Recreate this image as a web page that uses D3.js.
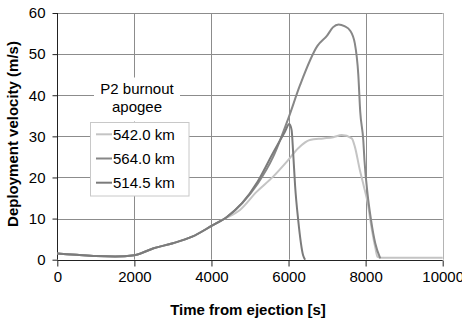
<!DOCTYPE html>
<html><head><meta charset="utf-8">
<script src="https://cdn.jsdelivr.net/npm/d3@7"></script>
<style>
html,body{margin:0;padding:0;background:#fff;}
text{font-family:Arial,"Liberation Sans",sans-serif;fill:#000;}
</style></head>
<body><svg id="c" width="462" height="323"></svg>
<script>
const xTicks = [0, 2000, 4000, 6000, 8000, 10000];
const yTicks = [0, 10, 20, 30, 40, 50, 60];
const seriesNames = ["542.0 km", "564.0 km", "514.5 km"];
const seriesColors = ["#c4c4c4", "#878787", "#7b7b7b"];

const t542 = [0, 500, 1000, 1500, 2000, 2500, 3000, 3500, 4000, 4300, 4740, 5170, 5600, 5950, 6250, 6550, 6900, 7160, 7380, 7640, 7720, 7850, 7950, 8050, 8150, 8250, 8310, 8400, 10000];
const v542 = [1.5, 1.2, 0.9, 0.8, 1.1, 2.8, 4.0, 5.6, 8.2, 9.8, 12.1, 16.5, 20.2, 23.8, 27.1, 29.1, 29.5, 29.8, 30.3, 29.5, 27.5, 21.8, 18, 14, 8, 3, 0.7, 0.5, 0.5];

const t564 = [0, 500, 1000, 1500, 2000, 2500, 3000, 3500, 4000, 4400, 4800, 5200, 5600, 6000, 6300, 6750, 7000, 7150, 7300, 7450, 7600, 7720, 7810, 7860, 7940, 7970, 8050, 8140, 8250, 8380];
const v564 = [1.5, 1.2, 0.9, 0.8, 1.1, 2.8, 4.0, 5.6, 8.2, 10.4, 13.8, 18.5, 25, 34.5, 42.5, 52, 54.5, 56.5, 57.2, 56.8, 55.7, 52.6, 45, 36, 29, 24.2, 16, 9.7, 4, 0.3];

const t514 = [0, 500, 1000, 1500, 2000, 2500, 3000, 3500, 4000, 4400, 4800, 5200, 5600, 5900, 6020, 6080, 6120, 6170, 6250, 6380, 6430];
const v514 = [1.5, 1.2, 0.9, 0.8, 1.1, 2.8, 4.0, 5.6, 8.2, 10.4, 13.8, 19, 26, 31, 33, 31.5, 26, 18, 9.7, 1, 0];

const seriesT = [t542, t564, t514];
const seriesV = [v542, v564, v514];

const svg = d3.select("#c");
const x = d3.scaleLinear().domain([0, 10000]).range([57.3, 442.7]);
const y = d3.scaleLinear().domain([0, 60]).range([259.7, 13]);

// gridlines
const g = svg.append("g");
g.selectAll(".hg").data(yTicks.filter(d => d > 0)).enter().append("line")
  .attr("x1", x(0)).attr("x2", x(10000))
  .attr("y1", d => Math.round(y(d)) + 0.5).attr("y2", d => Math.round(y(d)) + 0.5)
  .attr("stroke", "#8c8c8c").attr("stroke-width", 1);
g.selectAll(".vg").data(xTicks.filter(d => d > 0)).enter().append("line")
  .attr("y1", y(0)).attr("y2", y(60))
  .attr("x1", d => Math.round(x(d)) + 0.5).attr("x2", d => Math.round(x(d)) + 0.5)
  .attr("stroke", d => d === 10000 ? "#b4b4b4" : "#8c8c8c").attr("stroke-width", 1);

// axes
const xAxis = d3.axisBottom(x).tickValues(xTicks).tickSize(6).tickPadding(5).tickFormat(d3.format("d"));
const yAxis = d3.axisLeft(y).tickValues(yTicks).tickSize(5).tickPadding(7);
const gx = svg.append("g").attr("transform", `translate(0,${Math.round(y(0)) + 0.5})`).call(xAxis);
const gy = svg.append("g").attr("transform", `translate(${Math.round(x(0)) + 0.5},0)`).call(yAxis);
[gx, gy].forEach(a => {
  a.selectAll("path,line").attr("stroke", "#222").attr("stroke-width", 1);
  a.selectAll("text").attr("font-size", 15).attr("font-family", "Arial,'Liberation Sans',sans-serif");
});
gx.select(".domain").attr("d", `M${x(0)},0H${x(10000)}`);
gy.select(".domain").attr("d", `M0,${y(0)}V${y(60)}`);

// lines
const line = d3.line().x(d => x(d[0])).y(d => y(d[1])).curve(d3.curveMonotoneX);
seriesT.forEach((ts, i) => {
  const pts = ts.map((t, k) => [t, seriesV[i][k]]);
  svg.append("path").datum(pts).attr("d", line)
    .attr("fill", "none").attr("stroke", seriesColors[i]).attr("stroke-width", 2)
    .attr("stroke-linejoin", "round");
});

// axis titles
svg.append("text").attr("x", 248).attr("y", 315).attr("text-anchor", "middle")
  .attr("font-size", 15).attr("font-weight", "bold").text("Time from ejection [s]");
svg.append("text").attr("transform", "translate(17.5,134) rotate(-90)").attr("text-anchor", "middle")
  .attr("font-size", 15).attr("font-weight", "bold").text("Deployment velocity (m/s)");

// legend
svg.append("rect").attr("x", 94).attr("y", 77.5).attr("width", 86).attr("height", 44).attr("fill", "#fff");
svg.append("text").attr("x", 137).attr("y", 94.3).attr("text-anchor", "middle").attr("font-size", 15).text("P2 burnout");
svg.append("text").attr("x", 137).attr("y", 112).attr("text-anchor", "middle").attr("font-size", 15).text("apogee");
svg.append("rect").attr("x", 90.5).attr("y", 122.5).attr("width", 98.5).attr("height", 73.5)
  .attr("fill", "#fff").attr("stroke", "#c8c8c8");
seriesNames.forEach((n, i) => {
  const cy = 134.3 + i * 24.2;
  svg.append("line").attr("x1", 96).attr("x2", 112).attr("y1", cy).attr("y2", cy)
    .attr("stroke", seriesColors[i]).attr("stroke-width", 2);
  svg.append("text").attr("x", 113).attr("y", cy + 5.3).attr("font-size", 15).text(n);
});
</script></body></html>
